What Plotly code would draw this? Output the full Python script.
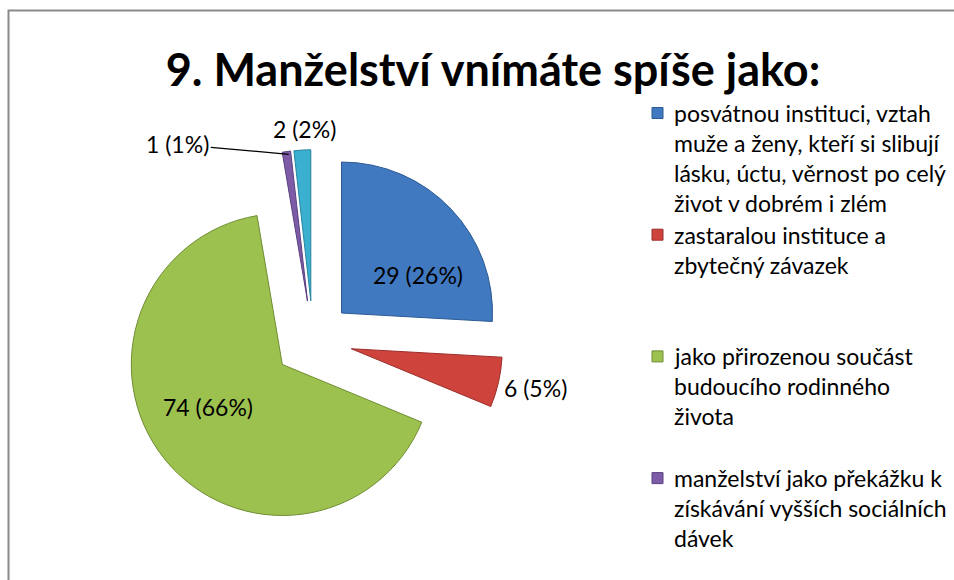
import math
import plotly.graph_objects as go

# ---------------- data ----------------
title_text = "9. Manželství vnímáte spíše jako:"
categories = [
    "posvátnou instituci, vztah<br>muže a ženy, kteří si slibují<br>lásku, úctu, věrnost po celý<br>život v dobrém i zlém",
    "zastaralou instituce a<br>zbytečný závazek",
    "jako přirozenou součást<br>budoucího rodinného<br>života",
    "manželství jako překážku k<br>získávání vyšších sociálních<br>dávek",
    "ostatní",
]
values = [29, 6, 74, 1, 2]
colors = ["#4079C0", "#CF433D", "#9DC14F", "#7D5BA6", "#3AAFCF"]
edge_colors = ["#2C5A93", "#9A2E2A", "#6F8D33", "#5A4080", "#27849E"]
visible_legend_items = 4  # the fifth entry is cut off in the original

# ---------------- layout constants ----------------
W, H = 954, 580
CX, CY = 313, 340          # pie centre in px
R = 151                    # slice radius in px
PULL = 0.26
FONT = "Lato"

half = R * (1 + PULL)
domain_x = [(CX - half) / W, (CX + half) / W]
domain_y = [1 - (CY + half) / H, 1 - (CY - half) / H]

total = sum(values)
texts = [f"{v} ({round(100 * v / total)}%)" for v in values]

fig = go.Figure(go.Pie(
    labels=categories,
    values=values,
    sort=False,
    direction="clockwise",
    rotation=0,
    pull=[PULL] * len(values),
    marker=dict(colors=colors, line=dict(color=edge_colors, width=1)),
    textinfo="none",
    hoverinfo="skip",
    showlegend=False,
    domain=dict(x=domain_x, y=domain_y),
))

# ---------------- data labels positioned from slice angles ----------------
label_dist = [0.56, 1.25, 0.567, 0.98, 1.14]   # fraction of R beyond pull
label_nudge = [11.6, -0.7, 6.0, 0.6, 1.0]      # degrees
LABEL_SIZE = 23


def to_paper(angle_deg, dist_px):
    a = math.radians(angle_deg)
    x = CX + math.sin(a) * dist_px
    y = CY - math.cos(a) * dist_px
    return x / W, 1 - y / H


annotations = []
cum = 0
for i, v in enumerate(values):
    mid = (cum + v / 2) / total * 360
    cum += v
    ang = mid + label_nudge[i]
    d = PULL * R + label_dist[i] * R
    px, py = to_paper(ang, d)
    if i == 3:
        annotations.append(dict(
            x=px, y=py, xref="paper", yref="paper", text=texts[i],
            showarrow=True, arrowhead=0, arrowwidth=1.3, arrowcolor="#000000",
            ax=-111, ay=-10, font=dict(family=FONT, size=LABEL_SIZE, color="#000000"),
        ))
    else:
        annotations.append(dict(
            x=px, y=py, xref="paper", yref="paper", text=texts[i],
            showarrow=False, xanchor="center", yanchor="middle",
            font=dict(family=FONT, size=LABEL_SIZE, color="#000000"),
        ))

# ---------------- manual legend (matches the original's clipped legend) ----------------
shapes = []
LEG_X_MARK = 652
LEG_X_TEXT = 672
LEG_Y0 = 113
LEG_SLOT = 121.7
LEG_LINE = 30
for i in range(visible_legend_items):
    y0 = LEG_Y0 + i * LEG_SLOT
    shapes.append(dict(
        type="rect", xref="paper", yref="paper",
        x0=LEG_X_MARK / W, x1=(LEG_X_MARK + 11) / W,
        y0=1 - (y0 + 5.5) / H, y1=1 - (y0 - 5.5) / H,
        fillcolor=colors[i], line=dict(color=edge_colors[i], width=1),
    ))
    for j, line in enumerate(categories[i].split("<br>")):
        annotations.append(dict(
            x=LEG_X_TEXT / W, y=1 - (y0 + j * LEG_LINE) / H,
            xref="paper", yref="paper", text=line, showarrow=False,
            xanchor="left", yanchor="middle",
            font=dict(family=FONT, size=23, color="#000000"),
        ))

# chart frame
shapes.append(dict(
    type="rect", xref="paper", yref="paper",
    x0=8.5 / W, x1=1.02, y0=-0.02, y1=1 - 10.5 / H,
    line=dict(color="#8A8A8A", width=2), fillcolor="rgba(0,0,0,0)",
))

fig.update_layout(
    width=W, height=H,
    margin=dict(l=0, r=0, t=0, b=0),
    paper_bgcolor="#FFFFFF",
    plot_bgcolor="#FFFFFF",
    title=dict(
        text=title_text, x=493 / W, y=1 - 70 / H, xanchor="center", yanchor="middle",
        font=dict(family=FONT, size=45, color="#000000", weight="bold"),
    ),
    annotations=annotations,
    shapes=shapes,
)

fig.write_html(
    "out.html",
    config={"displayModeBar": False},
    post_script="document.body.style.margin='0';document.body.style.overflow='hidden';",
)
